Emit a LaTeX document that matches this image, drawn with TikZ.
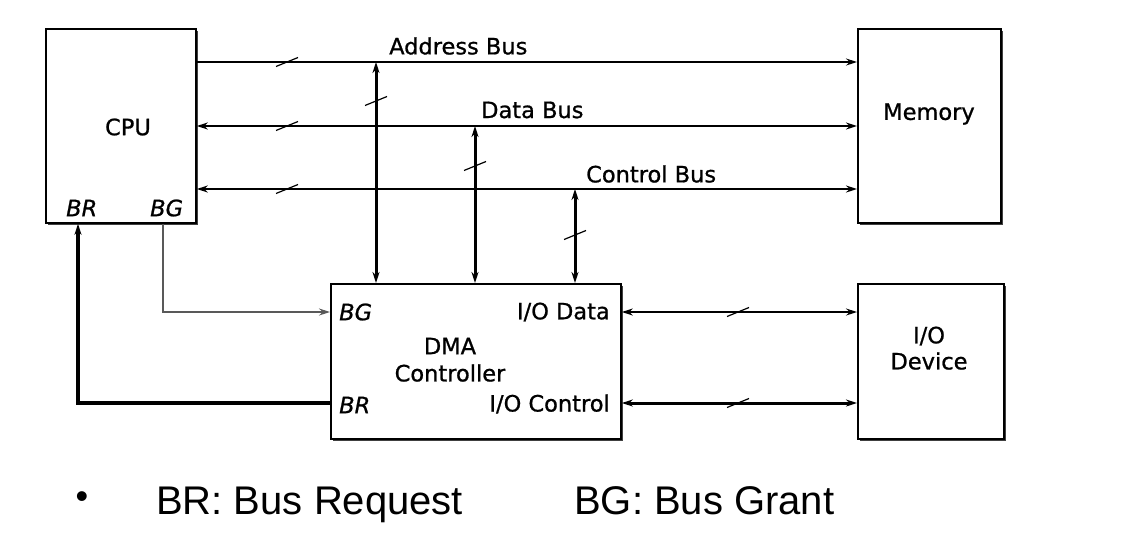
\documentclass[tikz,border=0pt]{standalone}
\usepackage{fontspec}
\setmainfont{DejaVu Sans}[FakeBold=0.9]
\newfontfamily\arialfont{Liberation Sans}
\usetikzlibrary{arrows.meta,shadows}
\begin{document}
\begin{tikzpicture}[x=1pt,y=-1pt,
  box/.style={draw, line width=1.8pt, fill=white, anchor=north west, inner sep=0pt,
    drop shadow={shadow xshift=1.8pt, shadow yshift=-1.8pt, fill=black!75, opacity=1}},
  lbl/.style={inner sep=0pt, font=\fontsize{22.5}{26}\selectfont},
  ilbl/.style={lbl, font=\fontsize{22.5}{26}\selectfont\itshape},
  big/.style={inner sep=0pt, font=\arialfont\fontsize{40}{44}\selectfont},
  tip/.style={-{Stealth[length=11pt,width=7pt]}},
  tips/.style={{Stealth[length=11pt,width=7pt]}-{Stealth[length=11pt,width=7pt]}},
  thinbus/.style={line width=1.2pt},
  midbus/.style={line width=1.7pt},
  thickbus/.style={line width=3pt},
  busmark/.pic={\draw[line width=1.2pt] (-11,4.5) -- (11,-4.5);}
]
\useasboundingbox (0,0) rectangle (1134,550);

% boxes
\node[box, minimum width=150pt, minimum height=194pt] (cpu) at (45,28) {};
\node[box, minimum width=143pt, minimum height=194pt] (mem) at (857,28) {};
\node[box, minimum width=290pt, minimum height=155pt] (dma) at (330,283) {};
\node[box, minimum width=146pt, minimum height=155pt] (io) at (857,283) {};

% reference coordinates
\coordinate (yA) at (0,62);
\coordinate (yD) at (0,126);
\coordinate (yC) at (0,189);
\coordinate (yG) at (0,312);
\coordinate (yR) at (0,403);
\coordinate (xA) at (376,0);
\coordinate (xD) at (475,0);
\coordinate (xC) at (575,0);
\coordinate (xG) at (163,0);
\coordinate (xR) at (78,0);

% box texts
\node[lbl] (cputxt) at (128,127) {CPU};
\node[ilbl, anchor=west] (cpubr) at (66,208) {BR};
\node[ilbl, anchor=west] (cpubg) at (150,208) {BG};
\node[lbl] (memtxt) at (929,114) {Memory};
\node[lbl] (iotxt1) at (929,336) {I/O};
\node[lbl] (iotxt2) at (929,361) {Device};
\node[lbl] (dmatxt1) at (450,346) {DMA};
\node[lbl] (dmatxt2) at (450,373) {Controller};
\node[ilbl, anchor=west] (dmabg) at (339,312) {BG};
\node[ilbl, anchor=west] (dmabr) at (339,405) {BR};
\node[lbl, anchor=east] (dmaiod) at (610,312) {I/O Data};
\node[lbl, anchor=east] (dmaioc) at (610,404) {I/O Control};

% bus labels
\node[lbl, anchor=west] (abl) at (389,46) {Address Bus};
\node[lbl, anchor=west] (dbl) at (481,110) {Data Bus};
\node[lbl, anchor=west] (cbl) at (586,174) {Control Bus};

% buses
\draw[thinbus, tip] (cpu.east |- yA) -- (mem.west |- yA);
\draw[midbus, tips] (cpu.east |- yD) -- (mem.west |- yD);
\draw[midbus, tips] (cpu.east |- yC) -- (mem.west |- yC);

% vertical DMA connections
\draw[thickbus, tips] (xA |- yA) -- (xA |- dma.north);
\draw[thickbus, tips] (xD |- yD) -- (xD |- dma.north);
\draw[thickbus, tips] (xC |- yC) -- (xC |- dma.north);

% BG and BR
\draw[line width=1.2pt, black!65, tip] (xG |- cpu.south) -- (xG |- yG) -- (dma.west |- yG);
\draw[line width=3.2pt, tip] (dma.west |- yR) -- (xR |- yR) -- (xR |- cpu.south);

% I/O lines
\draw[thinbus, tips] (dma.east |- yG) -- (io.west |- yG);
\draw[thickbus, tips] (dma.east |- yR) -- (io.west |- yR);

% bus width marks
\pic at (287,62) {busmark};
\pic at (287,126) {busmark};
\pic at (287,189) {busmark};
\pic at (376,101) {busmark};
\pic at (475,166) {busmark};
\pic at (575,235) {busmark};
\pic at (738,312) {busmark};
\pic at (738,403) {busmark};

% legend
\node[big, font=\arialfont\fontsize{36}{40}\selectfont] (bullet) at (82,500) {•};
\node[big, anchor=base west] (legbr) at (156,514) {BR: Bus Request};
\node[big, anchor=base west] (legbg) at (574,514) {BG: Bus Grant};
\end{tikzpicture}
\end{document}
